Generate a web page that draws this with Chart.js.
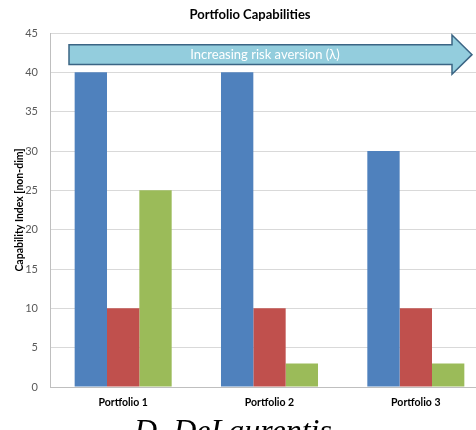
<!DOCTYPE html>
<html lang="en">
<head>
  <meta charset="utf-8">
  <title>Portfolio Capabilities</title>
  <script src="https://cdn.jsdelivr.net/npm/chart.js"></script>
  <style>
    html, body { margin: 0; padding: 0; background: #fff; overflow: hidden; }
  </style>
</head>
<body>
  <canvas id="capChart" width="500" height="430"></canvas>

  <script>
    const portfolios = ['Portfolio 1', 'Portfolio 2', 'Portfolio 3'];
    const blueValues = [40, 40, 30];
    const redValues = [10, 10, 10];
    const greenValues = [25, 3, 3];
    const yTicks = [0, 5, 10, 15, 20, 25, 30, 35, 40, 45];

    const FONT = 'Lato, "Open Sans", sans-serif';

    // title, rotated y title, the risk-aversion arrow and the author line
    const decorations = {
      id: 'decorations',
      afterDatasetsDraw(chart) {
        const { ctx, chartArea, scales } = chart;
        const y = scales.y;
        const left = chartArea.left;

        ctx.save();
        ctx.fillStyle = '#000';
        ctx.font = 'bold 13px ' + FONT;
        ctx.textAlign = 'center';
        ctx.textBaseline = 'middle';
        ctx.fillText('Portfolio Capabilities', 250, 15);

        ctx.translate(20, (chartArea.top + chartArea.bottom) / 2);
        ctx.rotate(-Math.PI / 2);
        ctx.font = 'bold 10.5px ' + FONT;
        ctx.fillText('Capability Index [non-dim]', 0, 0);
        ctx.restore();

        // arrow
        const bodyTop = y.getPixelForValue(43.5);
        const bodyBot = y.getPixelForValue(41.0);
        const headTop = y.getPixelForValue(44.75);
        const headBot = y.getPixelForValue(39.75);
        const mid = (bodyTop + bodyBot) / 2;
        const x0 = left + 19, x1 = left + 402, x2 = left + 422;
        ctx.save();
        ctx.beginPath();
        ctx.moveTo(x0, bodyTop);
        ctx.lineTo(x1, bodyTop);
        ctx.lineTo(x1, headTop);
        ctx.lineTo(x2, mid);
        ctx.lineTo(x1, headBot);
        ctx.lineTo(x1, bodyBot);
        ctx.lineTo(x0, bodyBot);
        ctx.closePath();
        ctx.fillStyle = '#93cddd';
        ctx.fill();
        ctx.lineWidth = 1.5;
        ctx.strokeStyle = '#3b6584';
        ctx.stroke();
        ctx.fillStyle = '#fff';
        ctx.font = '13px ' + FONT;
        ctx.textAlign = 'center';
        ctx.textBaseline = 'middle';
        ctx.fillText('Increasing risk aversion (\u03bb)', 265, mid);
        ctx.restore();

        ctx.save();
        ctx.fillStyle = '#000';
        ctx.font = 'italic 32px "Liberation Serif", serif';
        ctx.textAlign = 'center';
        ctx.textBaseline = 'alphabetic';
        ctx.fillText('D. DeLaurentis', 233, 441);
        ctx.restore();
      }
    };

    new Chart(document.getElementById('capChart'), {
      type: 'bar',
      data: {
        labels: portfolios,
        datasets: [
          { data: blueValues, backgroundColor: '#4f81bd' },
          { data: redValues, backgroundColor: '#c0504d' },
          { data: greenValues, backgroundColor: '#9bbb59' }
        ]
      },
      options: {
        responsive: false,
        animation: false,
        layout: { padding: { top: 33, right: 11, bottom: 0, left: 0 } },
        datasets: { bar: { barPercentage: 1, categoryPercentage: 0.663 } },
        plugins: { legend: { display: false }, tooltip: { enabled: false } },
        scales: {
          x: {
            grid: { display: false, drawTicks: false },
            border: { color: '#bfbfbf' },
            ticks: { color: '#000', font: { family: FONT, size: 10.5, weight: 'bold' }, padding: 9 },
            afterFit(scale) { scale.height = 43; }
          },
          y: {
            min: 0,
            max: 45,
            afterBuildTicks(scale) { scale.ticks = yTicks.map(v => ({ value: v })); },
            grid: { color: '#d9d9d9', drawTicks: false },
            border: { color: '#bfbfbf' },
            ticks: { color: '#595959', font: { family: FONT, size: 11 }, padding: 12 },
            afterFit(scale) { scale.width = 50; }
          }
        }
      },
      plugins: [decorations]
    });
  </script>
</body>
</html>
